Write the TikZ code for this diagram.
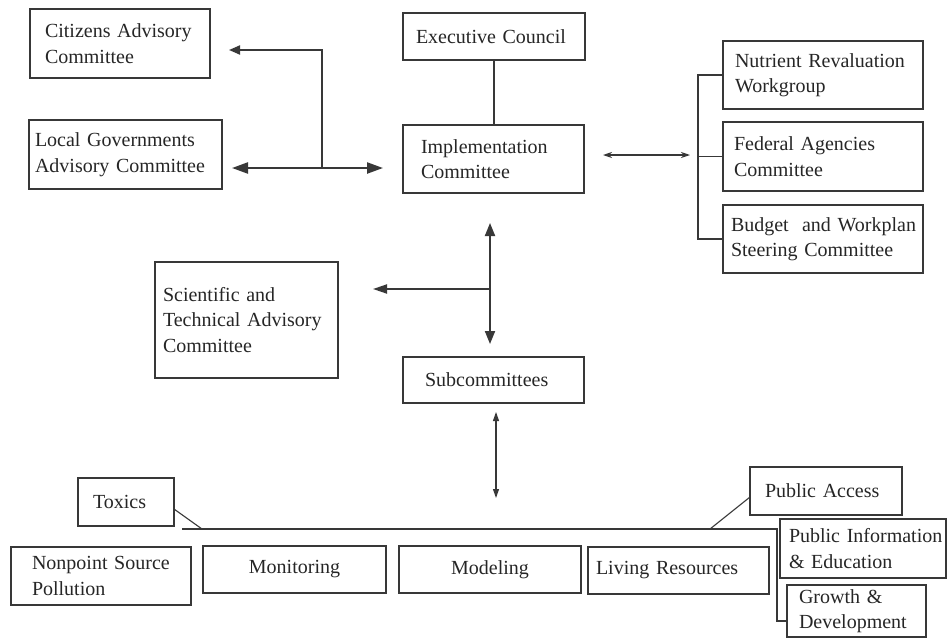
\documentclass[tikz,border=0pt]{standalone}
\usepackage{fontspec}
\setmainfont{Liberation Serif}
\usetikzlibrary{arrows.meta}
\definecolor{ink}{HTML}{262626}
\definecolor{linec}{HTML}{383838}
\newcommand\diagfont{\fontsize{20}{25.5}\selectfont}
\begin{document}
\begin{tikzpicture}[x=1pt,y=-1pt,
  bx/.style={draw=linec, line width=1.2pt, anchor=north west, align=left,
             inner ysep=0pt, outer sep=0pt, text=ink, font=\diagfont},
  cbx/.style={bx, align=center, inner xsep=0pt},
  heavy/.style={draw=linec, line width=2.3pt},
  medium/.style={draw=linec, line width=1.9pt},
  light/.style={draw=linec, line width=1.1pt}]
\useasboundingbox[fill=white] (0,0) rectangle (948,640);

% upper boxes
\node[bx, text width=150pt, inner xsep=15pt, minimum height=69pt] (cit) at (30,9)
  {Citizens Advisory\\Committee};
\node[bx, text width=181pt, inner xsep=6pt, minimum height=69pt] (lg) at (29,120)
  {Local Governments\\Advisory Committee};
\node[bx, text width=156pt, inner xsep=13pt, minimum height=47pt] (exec) at (403,13)
  {Executive Council};
\node[bx, text width=145pt, inner xsep=18pt, minimum height=68pt] (impl) at (403,125)
  {Implementation\\Committee};
\node[bx, text width=176pt, inner xsep=12pt, minimum height=68pt] (nut) at (723,41)
  {Nutrient Revaluation\\Workgroup};
\node[bx, text width=178pt, inner xsep=11pt, minimum height=69pt] (fed) at (723,122)
  {Federal Agencies\\Committee};
\node[bx, text width=184pt, inner xsep=8pt, minimum height=68pt] (bud) at (723,205)
  {\mbox{Budget~ and Workplan}\\Steering Committee};
\node[bx, text width=167pt, inner xsep=8pt, minimum height=116pt] (sci) at (155,262)
  {Scientific and\\Technical Advisory\\Committee};
\node[bx, text width=137pt, inner xsep=22pt, minimum height=46pt] (sub) at (403,357)
  {Subcommittees};

% lower boxes
\node[bx, text width=66pt, inner xsep=15pt, minimum height=48pt] (tox) at (78,478)
  {Toxics};
\node[bx, text width=138pt, inner xsep=21pt, minimum height=58pt] (nps) at (11,547)
  {\mbox{Nonpoint Source}\\Pollution};
\node[cbx, text width=183pt, minimum height=47pt] (mon) at (203,546) {Monitoring};
\node[cbx, text width=182pt, minimum height=47pt] (mod) at (399,546) {Modeling};
\node[bx, text width=165pt, inner xsep=8pt, minimum height=47pt] (liv) at (588,547)
  {Living Resources};
\node[bx, text width=122pt, inner xsep=15pt, minimum height=48pt] (pa) at (750,467)
  {Public Access};
\node[bx, text width=148pt, inner xsep=9pt, minimum height=59pt] (pi) at (780,519)
  {\mbox{Public Information}\\\& Education};
\node[bx, text width=115pt, inner xsep=12pt, minimum height=52pt] (gr) at (787,585)
  {Growth \&\\Development};

% coordinates for junctions
\coordinate (j) at (322,168);
\coordinate (k) at (322,50);
\coordinate (bm) at (698,155);
\coordinate (v) at (490,289);
\coordinate (h) at (496,529);
\coordinate (hl) at (182,529);
\coordinate (hr) at (777,529);
\coordinate (gt) at (777,621);
\coordinate (td) at (202,529);
\coordinate (pd) at (710,529);

% advisory committees
\draw[medium, -{Triangle[length=11pt,width=9pt]}, shorten >=19pt]
  (j) -- (k) -- (cit.east |- k);
\draw[heavy, {Triangle[length=16pt,width=11pt]}-{Triangle[length=16pt,width=11pt]},
  shorten <=10pt, shorten >=20pt] (lg.east |- j) -- (impl.west |- j);

% executive - implementation
\draw[light] (exec.south) -- (exec.south |- impl.north);

% implementation - workgroups
\draw[light, {Stealth[length=9pt,width=6pt]}-{Stealth[length=9pt,width=6pt]},
  shorten <=19pt, shorten >=8pt] (impl.east |- bm) -- (bm);
\draw[light] (nut.west) -- (nut.west -| bm) -- (bud.west -| bm) -- (bud.west);
\draw[light] (fed.west) -- (fed.west -| bm);

% implementation - subcommittees - STAC
\draw[medium, {Triangle[length=13pt,width=10pt]}-{Triangle[length=13pt,width=10pt]},
  shorten <=30pt, shorten >=13pt] (impl.south -| v) -- (sub.north -| v);
\draw[medium, -{Triangle[length=14pt,width=9pt]}, shorten >=35pt] (v) -- (sci.east |- v);

% subcommittees - lower row
\draw[light, {Triangle[length=9pt,width=6pt]}-{Triangle[length=9pt,width=6pt]},
  shorten <=9pt, shorten >=31pt] (sub.south -| h) -- (h);
\draw[light, line width=1.4pt] (hl) -- (hr) -- (gt) -- (gr.west |- gt);
\draw[light] ([yshift=-7pt]tox.east) -- (td);
\draw[light] ([yshift=-6pt]pa.west) -- (pd);
\end{tikzpicture}
\end{document}
